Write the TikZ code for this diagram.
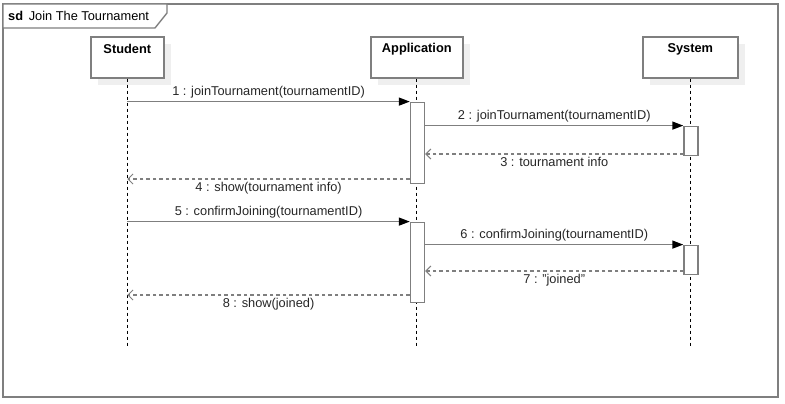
\documentclass[tikz,border=0pt]{standalone}
\usepackage{fontspec}
\setmainfont{Liberation Sans}
\usetikzlibrary{arrows.meta,calc}
\definecolor{ln}{HTML}{7F7F7F}
\definecolor{shd}{HTML}{EFEFEF}
\begin{document}
\begin{tikzpicture}[x=1pt,y=-1pt,font=\fontsize{12.8}{15}\selectfont,
  lifebox/.style={draw=ln,line width=1.6pt,fill=white,minimum width=73pt,minimum height=41pt,anchor=north west,inner sep=0pt},
  shadowbox/.style={fill=shd,draw=none,minimum width=73pt,minimum height=41pt,anchor=north west,inner sep=0pt},
  actbox/.style={draw=ln,line width=1.4pt,fill=white,minimum width=14pt,anchor=north west,inner sep=0pt},
  lifeline/.style={black,line width=0.9pt,dash pattern=on 3pt off 3pt},
  syncmsg/.style={draw=ln,line width=1.4pt,-{Triangle[color=black,length=11pt,width=8pt]}},
  retmsg/.style={draw=ln,line width=1.3pt,dash pattern=on 3.5pt off 3pt,-{Straight Barb[length=5pt,width=10pt,line width=1pt]}},
  lbl/.style={inner sep=1pt,text=black!85}]
\useasboundingbox (0,0) rectangle (785,404);
% frame
\draw[ln,line width=1.8pt] (3,4) rectangle (778,397);
\draw[ln,line width=1.4pt,fill=white] (3,4) -- (167,4) -- (167,13) -- (155,28) -- (3,28) -- cycle;
\node[anchor=west,inner sep=0pt] (title) at (8,16) {\textbf{sd}\ \,Join The Tournament};
% shadows
\node[shadowbox] (stush) at (98,44) {};
\node[shadowbox,minimum width=92pt] (appsh) at (378,44) {};
\node[shadowbox,minimum width=95pt] (syssh) at (650,44) {};
% heads
\node[lifebox] (stu) at (90,36) {};
\node[lifebox,minimum width=92pt] (app) at (370,36) {};
\node[lifebox,minimum width=95pt] (sys) at (642,36) {};
\node[font=\fontsize{12.8}{15}\selectfont\bfseries] (stut) at ($(stu.north)+(0,13)$) {Student};
\node[font=\fontsize{12.8}{15}\selectfont\bfseries] (appt) at ($(app.north)+(0,13)$) {Application};
\node[font=\fontsize{12.8}{15}\selectfont\bfseries] (syst) at ($(sys.north)+(0,13)$) {System};
% lifelines
\coordinate (stuend) at (stu.south |- 0,348);
\coordinate (append) at (app.south |- 0,348);
\coordinate (sysend) at (sys.south |- 0,348);
\draw[lifeline] (stu.south) -- (stuend);
\draw[lifeline] (app.south) -- (append);
\draw[lifeline] (sys.south) -- (sysend);
% activations
\node[actbox,minimum height=81pt] (a1) at ($(app.south)+(-7,23)$) {};
\node[actbox,minimum height=80pt] (a2) at ($(app.south)+(-7,143)$) {};
\node[actbox,minimum height=29pt] (s1) at ($(sys.south)+(-7,47)$) {};
\node[actbox,minimum height=29pt] (s2) at ($(sys.south)+(-7,166)$) {};
% messages group 1
\coordinate (m1s) at (stu.south |- a1.north);
\draw[syncmsg] (m1s) -- (a1.north west) node[lbl,midway,above=2pt] {1 : joinTournament(tournamentID)};
\coordinate (m2s) at (a1.east |- s1.north);
\draw[syncmsg] (m2s) -- (s1.north west) node[lbl,midway,above=2pt] {2 : joinTournament(tournamentID)};
\coordinate (m3s) at ($(s1.south west)+(0,-2)$);
\coordinate (m3e) at (a1.east |- m3s);
\draw[retmsg] (m3s) -- (m3e) node[lbl,midway,below=1.5pt] {3 : tournament info};
\coordinate (m4s) at ($(a1.south west)+(0,-5)$);
\coordinate (m4e) at (stu.south |- m4s);
\draw[retmsg] (m4s) -- (m4e) node[lbl,midway,below=1.5pt] {4 : show(tournament info)};
% messages group 2
\coordinate (m5s) at (stu.south |- a2.north);
\draw[syncmsg] (m5s) -- (a2.north west) node[lbl,midway,above=2pt] {5 : confirmJoining(tournamentID)};
\coordinate (m6s) at (a2.east |- s2.north);
\draw[syncmsg] (m6s) -- (s2.north west) node[lbl,midway,above=2pt] {6 : confirmJoining(tournamentID)};
\coordinate (m7s) at ($(s2.south west)+(0,-4)$);
\coordinate (m7e) at (a2.east |- m7s);
\draw[retmsg] (m7s) -- (m7e) node[lbl,midway,below=1.5pt] {7 : "joined"};
\coordinate (m8s) at ($(a2.south west)+(0,-8)$);
\coordinate (m8e) at (stu.south |- m8s);
\draw[retmsg] (m8s) -- (m8e) node[lbl,midway,below=1.5pt] {8 : show(joined)};
\end{tikzpicture}
\end{document}
